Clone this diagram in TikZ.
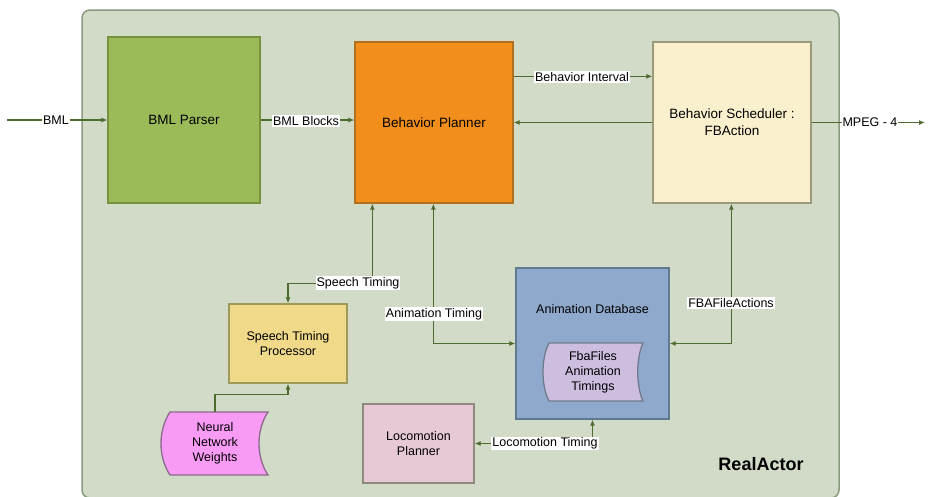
\documentclass[tikz,border=0pt]{standalone}
\usepackage{fontspec}
\setmainfont{Liberation Sans}
\usetikzlibrary{arrows.meta,calc}
\definecolor{bgc}{HTML}{D1DBC7}
\definecolor{contb}{HTML}{8A9A7E}
\definecolor{parserc}{HTML}{9BBB59}
\definecolor{parserb}{HTML}{76923C}
\definecolor{plannerc}{HTML}{F28E1C}
\definecolor{plannerb}{HTML}{B0701E}
\definecolor{schedc}{HTML}{FBF0CD}
\definecolor{schedb}{HTML}{9A9A7A}
\definecolor{stpc}{HTML}{F1D98A}
\definecolor{stpb}{HTML}{A09A5A}
\definecolor{nnwc}{HTML}{F89BF5}
\definecolor{nnwb}{HTML}{8C6A8C}
\definecolor{lococ}{HTML}{E7C9D6}
\definecolor{locob}{HTML}{8F8A80}
\definecolor{adbc}{HTML}{8EA9CC}
\definecolor{adbb}{HTML}{5F7A8F}
\definecolor{fbac}{HTML}{CDBEE0}
\definecolor{fbab}{HTML}{6F7A8A}
\definecolor{arrc}{HTML}{4F6B2F}
\tikzset{
  box/.style={draw, line width=1.3pt, align=center, inner sep=2pt},
  bigtxt/.style={font=\fontsize{13.5}{17}\selectfont},
  smalltxt/.style={font=\fontsize{12.5}{15}\selectfont},
  lbl/.style={fill=white, inner sep=1pt, font=\fontsize{12.5}{14}\selectfont},
  conn/.style={draw=arrc, line width=1.3pt},
  arr/.style={conn, -{Latex[length=6pt,width=5pt]}},
  biarr/.style={conn, {Latex[length=6pt,width=5pt]}-{Latex[length=6pt,width=5pt]}},
  shapeonly/.style={inner sep=0pt, align=center}
}
\begin{document}
\begin{tikzpicture}[x=1pt,y=-1pt]
\useasboundingbox[fill=white] (0,0) rectangle (931,496);
% container
\draw[draw=contb, fill=bgc, rounded corners=8pt, line width=1.5pt] (82,10) rectangle (839,498);
\node[font=\bfseries\fontsize{18}{20}\selectfont] (ra) at (761,464) {RealActor};

% main boxes
\node[box, bigtxt, fill=parserc, draw=parserb, minimum width=152pt, minimum height=166pt] (parser) at (184,120) {BML Parser};
\node[box, bigtxt, fill=plannerc, draw=plannerb, minimum width=158pt, minimum height=161pt] (planner) at (434,122.5) {Behavior Planner};
\node[box, bigtxt, fill=schedc, draw=schedb, minimum width=158pt, minimum height=161pt] (sched) at (732,122.5) {Behavior Scheduler :\\FBAction};
\node[box, smalltxt, fill=stpc, draw=stpb, minimum width=118pt, minimum height=79pt] (stp) at (288,343.5) {Speech Timing\\Processor};
\node[box, smalltxt, fill=lococ, draw=locob, minimum width=111pt, minimum height=79pt] (loco) at (418.5,443.5) {Locomotion\\Planner};
\node[box, fill=adbc, draw=adbb, minimum width=153pt, minimum height=151pt] (adb) at (592.5,343.5) {};
\node[smalltxt] (adbt) at (592.5,309) {Animation Database};

% stored data shapes
\draw[fill=nnwc, draw=nnwb, line width=1.3pt] (170,412) -- (268,412) .. controls (256,430) and (256,457) .. (268,475) -- (170,475) .. controls (158,457) and (158,430) .. (170,412) -- cycle;
\node[shapeonly, smalltxt, minimum width=105pt, minimum height=63pt] (nnw) at (215,443.5) {Neural\\Network\\Weights};
\draw[fill=fbac, draw=fbab, line width=1.3pt] (549,343) -- (643,343) .. controls (636,358) and (636,386) .. (643,401) -- (549,401) .. controls (541,386) and (541,358) .. (549,343) -- cycle;
\node[shapeonly, smalltxt, minimum width=100pt, minimum height=58pt] (fba) at (593,372) {FbaFiles\\Animation\\Timings};

% connectors
\coordinate (bmlin) at (7,120);
\coordinate (mpegout) at (925,122.5);
\draw[arr] (bmlin) -- (parser.west);
\node[lbl] at (56,120) {BML};
\draw[arr] (parser.east) -- (parser.east -| planner.west);
\node[lbl] at (306,121) {BML Blocks};
\draw[arr] ([yshift=-35pt]planner.north east) -- ([yshift=-35pt]sched.north west);
\node[lbl] at (582,77) {Behavior Interval};
\draw[arr] (sched.west) -- (planner.east);
\draw[arr] (sched.east) -- (mpegout);
\node[lbl] at (870,122.5) {MPEG - 4};

\draw[biarr] (stp.north) |- ($(planner.south west)+(18,80)$) -- ([xshift=18pt]planner.south west);
\node[lbl] at (358,283) {Speech Timing};
\draw[biarr] ([xshift=79pt]planner.south west) |- (adb.west);
\node[lbl] at (434,314) {Animation Timing};
\draw[biarr] ([xshift=79pt]sched.south west) |- (adb.east);
\node[lbl] at (731,303) {FBAFileActions};
\draw[biarr] (adb.south) |- (loco.east);
\node[lbl] at (545,443.5) {Locomotion Timing};
\draw[arr] (nnw.north) -- ++(0,-17) -| (stp.south);
\end{tikzpicture}
\end{document}
